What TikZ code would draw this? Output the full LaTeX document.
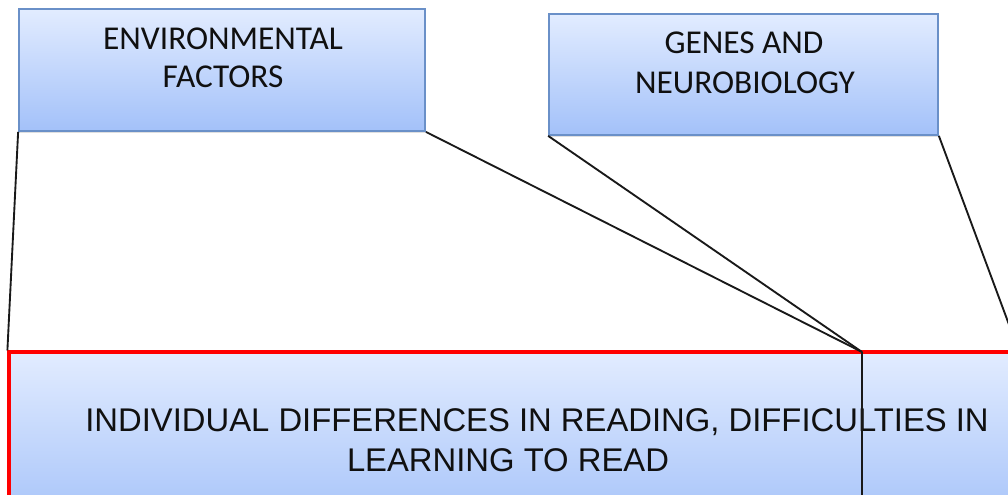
\documentclass[tikz,border=0pt]{standalone}
\usepackage{fontspec}
\newfontfamily\calibrifont{Carlito}
\newfontfamily\arialfont{Liberation Sans}
\usetikzlibrary{shadows}
\definecolor{boxtop}{HTML}{E2ECFF}
\definecolor{boxbot}{HTML}{A3C1F9}
\definecolor{boxline}{HTML}{6A90C8}
\definecolor{redline}{HTML}{FF0000}
\definecolor{txt}{HTML}{101010}
\tikzset{
  smallbox/.style={draw=boxline, line width=1.3pt, top color=boxtop, bottom color=boxbot,
    inner sep=0pt, drop shadow={shadow xshift=0pt, shadow yshift=-1.5pt, opacity=0.25}},
  bigbox/.style={draw=redline, line width=2.4pt, top color=boxtop, bottom color=boxbot, inner sep=0pt},
  smalltext/.style={font=\calibrifont\fontsize{25}{30}\selectfont, text=txt, inner sep=0pt, anchor=base},
  bigtext/.style={font=\arialfont\fontsize{24.6}{30}\selectfont, text=txt, inner sep=0pt, anchor=base},
  link/.style={draw=black!90, line width=1.4pt}
}
\begin{document}
\begin{tikzpicture}[x=0.75pt, y=-0.75pt]
\useasboundingbox (0,0) rectangle (1008,495);
\clip (0,0) rectangle (1008,495);
% big box
\node[bigbox, minimum width=1008*0.75pt, minimum height=180*0.75pt] (big) at (513,442) {};
\node[bigtext] (bt1) at (537,432) {INDIVIDUAL DIFFERENCES IN READING, DIFFICULTIES IN};
\node[bigtext] (bt2) at (508,472) {LEARNING TO READ};
% small boxes
\node[smallbox, minimum width=406*0.75pt, minimum height=122*0.75pt] (env) at (222,70) {};
\node[smalltext] (env1) at (223,50) {ENVIRONMENTAL};
\node[smalltext] (env2) at (223,88) {FACTORS};
\node[smallbox, minimum width=389*0.75pt, minimum height=121*0.75pt] (gen) at (743.5,74.5) {};
\node[smalltext] (gen1) at (744,54) {GENES AND};
\node[smalltext] (gen2) at (745,94) {NEUROBIOLOGY};
% connectors
\coordinate (J) at (862,352);
\coordinate (Jbot) at (862,540);
\draw[link] (env.south west) -- (big.north west);
\draw[link] (env.south east) -- (J);
\draw[link] (gen.south west) -- (J);
\draw[link] (gen.south east) -- (big.north east);
\draw[link] (J) -- (Jbot);
\end{tikzpicture}
\end{document}
